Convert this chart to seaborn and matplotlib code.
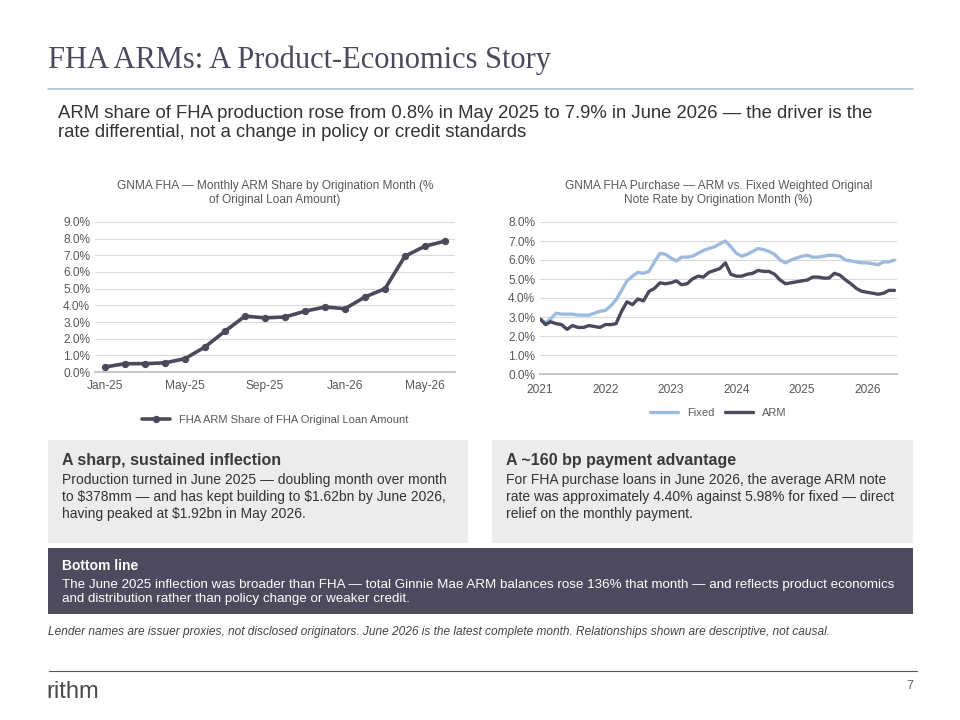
import numpy as np
import pandas as pd
import matplotlib
matplotlib.use("Agg")
import matplotlib.pyplot as plt
import matplotlib.ticker as mtick
import seaborn as sns

sns.set_theme(style="white")
plt.rcParams['font.family'] = ['Liberation Sans', 'DejaVu Sans']

share_months = ["Jan-25","Feb-25","Mar-25","Apr-25","May-25","Jun-25","Jul-25","Aug-25","Sep-25",
                "Oct-25","Nov-25","Dec-25","Jan-26","Feb-26","Mar-26","Apr-26","May-26","Jun-26"]
arm_share = [0.3,0.5,0.5,0.55,0.8,1.5,2.45,3.35,3.25,3.3,3.65,3.9,3.8,4.5,5.0,6.95,7.55,7.85]

fixed_rate = [2.9,2.7,2.9,3.2,3.15,3.15,3.15,3.1,3.1,3.1,3.2,3.3,
              3.35,3.6,3.9,4.4,4.9,5.15,5.35,5.3,5.4,5.9,6.35,6.3,
              6.1,5.95,6.15,6.15,6.2,6.35,6.5,6.6,6.7,6.85,7.0,6.7,
              6.35,6.2,6.3,6.45,6.6,6.55,6.45,6.3,6.0,5.85,6.0,6.1,
              6.2,6.25,6.15,6.15,6.2,6.25,6.25,6.2,6.0,5.95,5.9,5.85,
              5.85,5.8,5.75,5.9,5.9,6.0]
arm_rate = [2.9,2.6,2.75,2.65,2.6,2.35,2.55,2.45,2.45,2.55,2.5,2.45,
            2.6,2.6,2.65,3.3,3.8,3.65,3.95,3.85,4.35,4.5,4.8,4.75,
            4.8,4.9,4.7,4.75,5.0,5.15,5.1,5.35,5.45,5.55,5.85,5.25,
            5.15,5.15,5.25,5.3,5.45,5.4,5.4,5.25,4.95,4.75,4.8,4.85,
            4.9,4.95,5.1,5.1,5.05,5.05,5.3,5.2,4.95,4.75,4.5,4.35,
            4.3,4.25,4.2,4.25,4.4,4.4]
rate_years = [2021,2022,2023,2024,2025,2026]

W, H = 960, 720
fig = plt.figure(figsize=(9.6, 7.2), dpi=100)
fig.patch.set_facecolor("white")

def fx(x): return x / W
def fy(y): return 1 - y / H

DARK = "#4a4a5c"
GRID = "#d9d9d9"
TICK = "#595959"

# Header
fig.text(fx(48), fy(60), "FHA ARMs: A Product-Economics Story", family=["Liberation Serif", "DejaVu Serif"],
         fontsize=22, color="#4a4a5c", va="center")
fig.add_artist(plt.Line2D([fx(48), fx(913)], [fy(89), fy(89)], color="#a9c4dc", lw=1.2))
fig.text(fx(58), fy(123), "ARM share of FHA production rose from 0.8% in May 2025 to 7.9% in June 2026 — the driver is the\nrate differential, not a change in policy or credit standards",
         fontsize=13.3, color="#333333", va="center", linespacing=1.2)

# Left chart
ax1 = fig.add_axes([fx(95), fy(372), fx(455) - fx(95), fy(222) - fy(372)])
df1 = pd.DataFrame({"i": np.arange(len(arm_share)), "v": np.array(arm_share) / 100})
sns.lineplot(data=df1, x="i", y="v", ax=ax1, color=DARK, lw=2.6, marker="o", markersize=4.5,
             markeredgecolor=DARK, label="FHA ARM Share of FHA Original Loan Amount")
ax1.set_ylim(0, 0.09)
ax1.set_yticks(np.arange(0, 0.0901, 0.01))
ax1.yaxis.set_major_formatter(mtick.PercentFormatter(1.0, decimals=1))
ax1.set_xlim(-0.5, len(arm_share) - 0.5)
ax1.set_xticks(np.arange(0, len(arm_share), 4))
ax1.set_xticklabels([share_months[i] for i in range(0, len(arm_share), 4)])
ax1.set_xticks(np.arange(-0.5, len(arm_share), 4), minor=True)
ax1.tick_params(axis="x", which="major", length=0, labelsize=8.6, colors=TICK, pad=6)
ax1.tick_params(axis="x", which="minor", length=4, color="#bfbfbf")
ax1.tick_params(axis="y", length=0, labelsize=8.6, colors=TICK)
ax1.set_xlabel(""); ax1.set_ylabel("")
ax1.grid(axis="y", color=GRID, lw=0.8)
for s in ["top", "right", "left"]:
    ax1.spines[s].set_visible(False)
ax1.spines["bottom"].set_color("#bfbfbf")
ax1.set_title("GNMA FHA — Monthly ARM Share by Origination Month (%\nof Original Loan Amount)",
              fontsize=8.6, color="#595959", pad=14)
ax1.legend(loc="upper center", bbox_to_anchor=(0.5, -0.22), frameon=False, fontsize=8,
           labelcolor="#595959", handlelength=2.5)

# Right chart
ax2 = fig.add_axes([fx(540), fy(374), fx(897) - fx(540), fy(222) - fy(374)])
dates = pd.date_range("2021-01-01", periods=len(fixed_rate), freq="MS")
df2 = pd.DataFrame({"date": list(dates) * 2,
                    "rate": np.array(fixed_rate + arm_rate) / 100,
                    "series": ["Fixed"] * len(fixed_rate) + ["ARM"] * len(arm_rate)})
sns.lineplot(data=df2, x="date", y="rate", hue="series", ax=ax2,
             palette={"Fixed": "#9dbbdd", "ARM": DARK}, lw=2.4)
ax2.set_ylim(0, 0.08)
ax2.set_yticks(np.arange(0, 0.0801, 0.01))
ax2.yaxis.set_major_formatter(mtick.PercentFormatter(1.0, decimals=1))
ax2.set_xlim(pd.Timestamp("2021-01-01"), pd.Timestamp("2026-06-15"))
ax2.set_xticks([pd.Timestamp(f"{y}-01-01") for y in rate_years])
ax2.set_xticklabels([str(y) for y in rate_years])
ax2.tick_params(axis="x", length=4, color="#bfbfbf", labelsize=8.6, colors=TICK)
ax2.tick_params(axis="y", length=0, labelsize=8.6, colors=TICK)
ax2.set_xlabel(""); ax2.set_ylabel("")
ax2.grid(axis="y", color=GRID, lw=0.8)
for s in ["top", "right", "left"]:
    ax2.spines[s].set_visible(False)
ax2.spines["bottom"].set_color("#bfbfbf")
ax2.set_title("GNMA FHA Purchase — ARM vs. Fixed Weighted Original\nNote Rate by Origination Month (%)",
              fontsize=8.6, color="#595959", pad=14)
ax2.legend(loc="upper center", bbox_to_anchor=(0.5, -0.16), frameon=False, fontsize=8,
           labelcolor="#595959", ncol=2, handlelength=2.5, columnspacing=1.0)

# Boxes
def box(x0, y0, x1, y1, color):
    fig.add_artist(plt.Rectangle((fx(x0), fy(y1)), fx(x1) - fx(x0), fy(y0) - fy(y1),
                                 facecolor=color, edgecolor="none"))

box(48, 440, 468, 543, "#ececec")
box(492, 440, 913, 543, "#ececec")
box(48, 548, 913, 614, "#4d4a5e")

fig.text(fx(62), fy(461), "A sharp, sustained inflection", fontsize=11.5, weight="bold", color="#3a3a3a", va="center")
fig.text(fx(62), fy(497), "Production turned in June 2025 — doubling month over month\nto \\$378mm — and has kept building to \\$1.62bn by June 2026,\nhaving peaked at \\$1.92bn in May 2026.",
         fontsize=10, color="#333333", va="center", linespacing=1.25)
fig.text(fx(506), fy(461), "A ~160 bp payment advantage", fontsize=11.5, weight="bold", color="#3a3a3a", va="center")
fig.text(fx(506), fy(497), "For FHA purchase loans in June 2026, the average ARM note\nrate was approximately 4.40% against 5.98% for fixed — direct\nrelief on the monthly payment.",
         fontsize=10, color="#333333", va="center", linespacing=1.25)
fig.text(fx(62), fy(566), "Bottom line", fontsize=10, weight="bold", color="white", va="center")
fig.text(fx(62), fy(592), "The June 2025 inflection was broader than FHA — total Ginnie Mae ARM balances rose 136% that month — and reflects product economics\nand distribution rather than policy change or weaker credit.",
         fontsize=9.6, color="white", va="center", linespacing=1.2)

fig.text(fx(48), fy(632), "Lender names are issuer proxies, not disclosed originators. June 2026 is the latest complete month. Relationships shown are descriptive, not causal.",
         fontsize=8.6, style="italic", color="#444444", va="center")

fig.add_artist(plt.Line2D([fx(49), fx(917)], [fy(671), fy(671)], color="#555555", lw=0.8))
fig.text(fx(46), fy(692), "rithm", fontsize=17, color="#4a4a4a", va="center")
fig.text(fx(913), fy(686), "7", fontsize=9, color="#666666", va="center", ha="right")

fig.savefig("out.png", dpi=100, facecolor="white")
